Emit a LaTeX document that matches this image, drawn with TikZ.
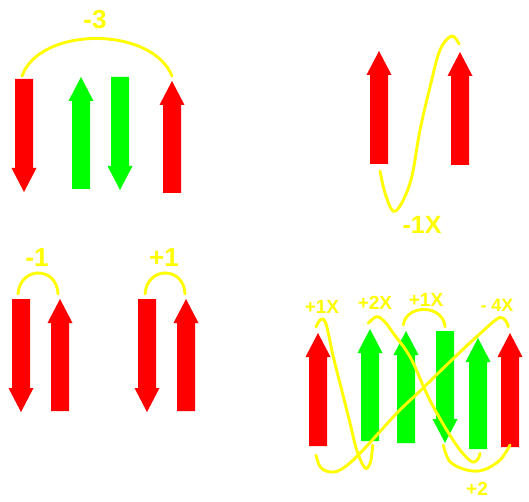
\documentclass[tikz,border=0pt]{standalone}
\usepackage{fontspec}
\setmainfont{Liberation Sans}
\usepackage{tikz}

\definecolor{spinyellow}{RGB}{255,255,0}
\tikzset{
  link/.style={spinyellow, line width=2.9pt, line cap=round, line join=round},
  lab/.style={text=spinyellow, inner sep=0pt, font=\bfseries\fontsize{#1}{#1}\selectfont},
  lab/.default=19
}

\begin{document}
\begin{tikzpicture}[x=1pt, y=-1pt]
  \useasboundingbox (0,0) rectangle (529,502);
  % up arrows: centre / tip / bottom / colour
  \foreach \x/\t/\b/\c in {81/77/189/green, 172/81/193/red, 379/51/164/red,
      460/52/165/red, 60/299/411/red, 186/299/411/red, 318/333/446/red,
      370/329/441/green, 406/331/443/green, 478/338/449/green, 510/333/447/red}
    \fill[\c] ({\x-9},\b) -- ({\x-9},{\t+24}) -- ({\x-12.5},{\t+24}) -- (\x,\t)
      -- ({\x+12.5},{\t+24}) -- ({\x+9},{\t+24}) -- ({\x+9},\b) -- cycle;
  % down arrows: centre / top / tip / colour
  \foreach \x/\t/\b/\c in {24/79/192/red, 120/77/190/green, 21/299/412/red,
      147/299/412/red, 445/331/443/green}
    \fill[\c] ({\x-9},\t) -- ({\x-9},{\b-24}) -- ({\x-12.5},{\b-24}) -- (\x,\b)
      -- ({\x+12.5},{\b-24}) -- ({\x+9},{\b-24}) -- ({\x+9},\t) -- cycle;

  % top left
  \draw[link] (22,76) .. controls (40,26) and (152,26) .. (172,76);
  \node[lab=26] (m3) at (95,20) {-3};
  % top right
  \draw[link] plot[smooth, tension=0.6] coordinates {(380,171) (385,193)
    (393,211) (401.7,203) (411.7,177) (420,130) (430,87) (440,50)
    (451.7,36) (459,44)};
  \node[lab=25] (m1x) at (422,225) {-1X};
  % bottom left
  \draw[link] (18,294) .. controls (20,266) and (57,266) .. (58,294);
  \draw[link] (145,294) .. controls (147,266) and (184,266) .. (185,294);
  \node[lab=26] (m1) at (37,258) {-1};
  \node[lab=26] (p1) at (164,258) {+1};
  % bottom right
  \draw[link] plot[smooth, tension=0.6] coordinates {(316,327) (320.7,319.3)
    (326,324) (333.3,356.7) (341.7,390) (350,423) (356.7,450) (365,468)
    (370.5,462) (372.7,445)};
  \draw[link] plot[smooth, tension=0.6] coordinates {(316,455) (320,466.7)
    (328.3,471.7) (340,470) (358.3,455) (396.7,413.3) (420,391) (450,361.7)
    (476.7,336.7) (500,317.5) (508.3,326.7)};
  \draw[link] plot[smooth, tension=0.6] coordinates {(368.3,323.3)
    (376.7,316.7) (385,322) (393.3,333.3) (410,356.7) (425,390)
    (433.3,406.7) (446.7,430) (460,450) (471.7,461.7) (478,459) (480,453.3)};
  \draw[link] (403.3,325) .. controls (406,304) and (443,304) .. (445,326.7);
  \draw[link] plot[smooth, tension=0.6] coordinates {(443.3,445) (450,461.7)
    (466.7,470) (483.3,470) (500,460) (510,445)};
  \node[lab] (a1) at (322,307) {+1X};
  \node[lab] (a2) at (375,303) {+2X};
  \node[lab] (a3) at (426,300) {+1X};
  \node[lab=18] (a4) at (497,305) {- 4X};
  \node[lab] (a5) at (477,489) {+2};
\end{tikzpicture}
\end{document}
